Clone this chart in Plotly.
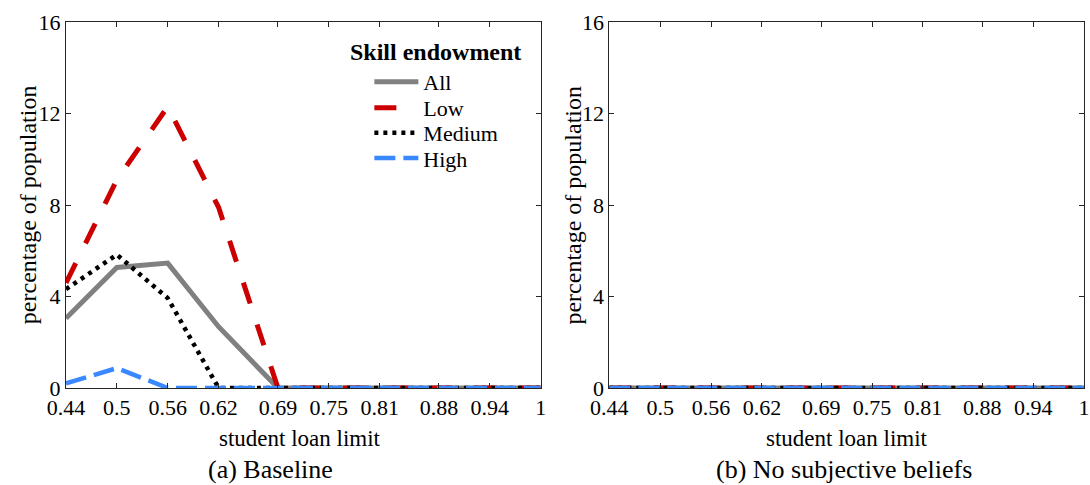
import plotly.graph_objects as go
from plotly.subplots import make_subplots

# ---- data ----
loan_limit = [0.44, 0.5, 0.56, 0.62, 0.69, 0.75, 0.81, 0.88, 0.94, 1.0]
tick_labels = ["0.44", "0.5", "0.56", "0.62", "0.69", "0.75", "0.81", "0.88", "0.94", "1"]

base_all = [3.05, 5.27, 5.46, 2.68, 0, 0, 0, 0, 0, 0]
base_low = [4.6, 9.1, 12.3, 7.9, 0, 0, 0, 0, 0, 0]
base_medium = [4.32, 5.83, 3.93, 0, 0, 0, 0, 0, 0, 0]
base_high = [0.2, 0.87, 0, 0, 0, 0, 0, 0, 0, 0]

nobel_all = [0, 0, 0, 0, 0, 0, 0, 0, 0, 0]
nobel_low = [0, 0, 0, 0, 0, 0, 0, 0, 0, 0]
nobel_medium = [0, 0, 0, 0, 0, 0, 0, 0, 0, 0]
nobel_high = [0, 0, 0, 0, 0, 0, 0, 0, 0, 0]

y_ticks = [0, 4, 8, 12, 16]
series_names = ["All", "Low", "Medium", "High"]
legend_title = "Skill endowment"

# ---- styles ----
FONT = "Liberation Serif"
styles = {
    "All": dict(color="#808080", width=5, dash="solid"),
    "Low": dict(color="#CC0000", width=5, dash="22px,22px"),
    "Medium": dict(color="#000000", width=4.5, dash="4px,5px"),
    "High": dict(color="#3A88FF", width=4.5, dash="21px,8px"),
}
legend_ids = {"All": "legend", "Low": "legend2", "Medium": "legend3", "High": "legend4"}
legend_y = {"All": 0.836, "Low": 0.765, "Medium": 0.697, "High": 0.628}

fig = make_subplots(rows=1, cols=2, horizontal_spacing=0.0674)

panels = [
    (1, [base_all, base_low, base_medium, base_high], True),
    (2, [nobel_all, nobel_low, nobel_medium, nobel_high], False),
]
for col, series, show in panels:
    for name, vals in zip(series_names, series):
        fig.add_trace(
            go.Scatter(
                x=loan_limit, y=vals, mode="lines", name=name,
                line=styles[name], showlegend=show, legend=legend_ids[name],
            ),
            row=1, col=col,
        )

axis_common = dict(
    showline=True, linecolor="#262626", linewidth=1, mirror="ticks",
    ticks="inside", ticklen=5, tickcolor="#262626", tickwidth=1,
    showgrid=False, zeroline=False,
    tickfont=dict(family=FONT, size=22, color="black"),
)
for c in (1, 2):
    fig.update_xaxes(range=[0.44, 1.0], tickvals=loan_limit, ticktext=tick_labels,
                     **axis_common, row=1, col=c)
    fig.update_yaxes(range=[0, 16], tickvals=y_ticks, **axis_common, row=1, col=c)

annots = []
for xc, sc, sub in [(0.2297, 0.2004, "(a) Baseline"), (0.7669, 0.7644, "(b) No subjective beliefs")]:
    annots.append(dict(text="student loan limit", x=xc, y=-0.137, xref="paper", yref="paper",
                       showarrow=False, xanchor="center", yanchor="middle",
                       font=dict(family=FONT, size=23, color="black")))
    annots.append(dict(text=sub, x=sc, y=-0.224, xref="paper", yref="paper",
                       showarrow=False, xanchor="center", yanchor="middle",
                       font=dict(family=FONT, size=26, color="black")))
for xp in (-0.0372, 0.4976):
    annots.append(dict(text="percentage of population", x=xp, y=0.5, xref="paper", yref="paper",
                       showarrow=False, xanchor="center", yanchor="middle", textangle=-90,
                       font=dict(family=FONT, size=24, color="black")))
annots.append(dict(text="<b>" + legend_title + "</b>", x=0.363, y=0.918, xref="paper", yref="paper",
                   showarrow=False, xanchor="center", yanchor="middle",
                   font=dict(family=FONT, size=24, color="black")))

legend_common = dict(
    x=0.298, xanchor="left", yanchor="middle",
    bgcolor="rgba(0,0,0,0)", borderwidth=0,
    font=dict(family=FONT, size=22, color="black"),
    itemwidth=44,
)
layout_legends = {}
for name in series_names:
    layout_legends[legend_ids[name]] = dict(y=legend_y[name], **legend_common)

fig.update_layout(
    width=1090, height=485,
    margin=dict(l=66, r=1, t=22, b=97),
    paper_bgcolor="white", plot_bgcolor="white",
    annotations=annots,
    **layout_legends,
)

fig.write_html("out.html", config={"displayModeBar": False},
               post_script="document.body.style.margin='0';")
